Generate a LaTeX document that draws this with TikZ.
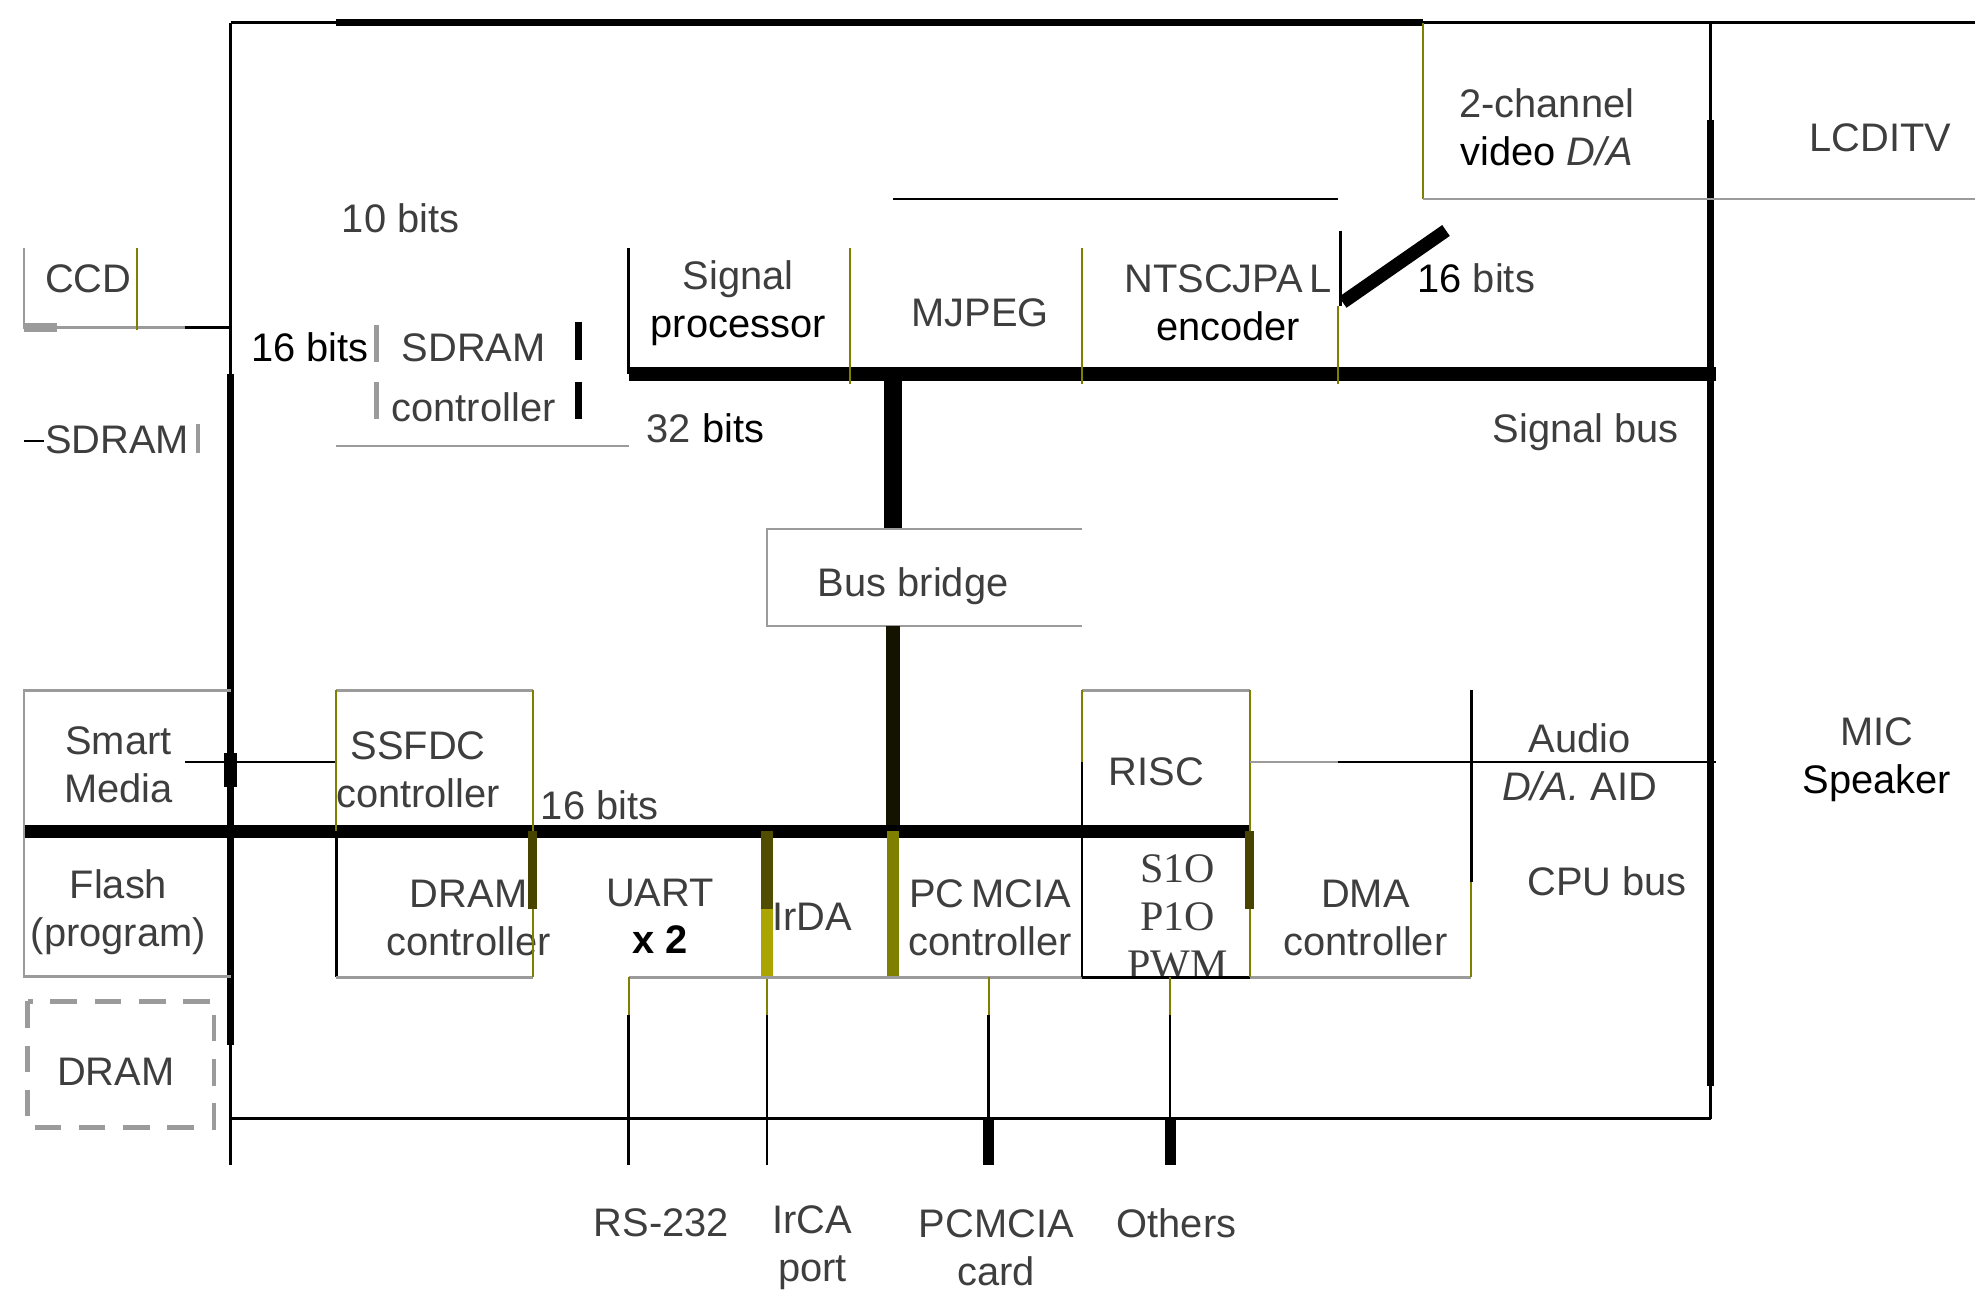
\documentclass[tikz,border=0pt]{standalone}
\usepackage{fontspec}
\setmainfont{Liberation Sans}
\newfontfamily\siofont{Liberation Serif}
\definecolor{olv}{RGB}{128,128,0}
\definecolor{dolv}{RGB}{72,68,0}
\definecolor{yolv}{RGB}{170,165,0}
\definecolor{txt}{RGB}{62,62,62}
\definecolor{lgr}{RGB}{155,155,155}

\begin{document}
\begin{tikzpicture}[x=1cm,y=-1cm,
  lbl/.style={text=txt,font=\fontsize{9}{10.8}\selectfont,align=center,inner sep=0pt},
  wire/.style={line width=0.6pt,black},
  grline/.style={line width=0.6pt,lgr},
  olvline/.style={line width=0.45pt,olv},
  busline/.style={line width=3pt,black},
  spine/.style={line width=1.7pt,black},
  stubline/.style={line width=2.8pt}]
\useasboundingbox (0,0) rectangle (15.68,10.24);

\coordinate (topL) at (1.83,0.18); \coordinate (topA) at (2.67,0.18); \coordinate (topB) at (11.30,0.18); \coordinate (topR) at (15.68,0.18);
\coordinate (sbL) at (4.99,2.97); \coordinate (sbM) at (7.09,2.97); \coordinate (sbR) at (13.62,2.97);
\coordinate (cbL) at (0.19,6.60); \coordinate (cbM) at (7.09,6.60); \coordinate (cbR) at (9.92,6.60);
\coordinate (spT) at (1.83,2.97); \coordinate (spB) at (1.83,8.30); \coordinate (spE) at (1.83,9.25);
\coordinate (rsT) at (13.58,0.95); \coordinate (rsB) at (13.58,8.62); \coordinate (rsE) at (13.58,8.88);
\coordinate (btL) at (1.83,8.88);

\node[lbl] (ccd) at (0.70,2.21){CCD};
\node[lbl] (tenbits) at (3.18,1.73){10 bits};
\node[lbl,text=black] (bitsA) at (2.46,2.76){16 bits};
\node[lbl] (sdramA) at (3.76,2.76){SDRAM};
\node[lbl] (sdramB) at (3.76,3.23){controller};
\node[lbl] (sdramL) at (0.93,3.49){SDRAM};
\node[lbl] (bitsB) at (5.60,3.40){32 \textcolor{black}{bits}};
\node[lbl] (sigproc) at (5.86,2.405){Signal\\\textcolor{black}{processor}};
\node[lbl] (mjpeg) at (7.78,2.48){MJPEG};
\node[lbl] (ntsc) at (9.75,2.405){NTSCJPA\,L\\\textcolor{black}{encoder}};
\node[lbl] (bitsC) at (11.72,2.21){\textcolor{black}{16} bits};
\node[lbl] (vda) at (12.28,1.01){2-channel\\\textcolor{black}{video} \textit{D/A}};
\node[lbl] (lcd) at (14.93,1.09){LCDITV};
\node[lbl] (sigbus) at (12.59,3.43){Signal bus};
\node[lbl] (bridge) at (7.25,4.65){Bus bridge};
\node[lbl] (smart) at (0.94,6.07){Smart\\Media};
\node[lbl] (flash) at (0.94,7.245){Flash\\(program)};
\node[lbl] (ssfdc) at (3.32,6.11){SSFDC\\controller};
\node[lbl] (bitsD) at (4.76,6.39){16 bits};
\node[lbl] (dramctl) at (3.72,7.285){DRAM\\controller};
\node[lbl] (uart) at (5.24,7.275){UART\\\textcolor{black}{\bfseries x 2}};
\node[lbl] (irda) at (6.45,7.28){IrDA};
\node[lbl] (pcmciac) at (7.86,7.285){PC\,MCIA\\controller};
\node[lbl] (risc) at (9.18,6.13){RISC};
\node[lbl,font=\siofont\fontsize{9.5}{10.8}\selectfont] (sio) at (9.35,7.28){S1O\\P1O\\PWM};
\node[lbl] (dma) at (10.84,7.285){DMA\\controller};
\node[lbl] (audio) at (12.54,6.05){Audio\\\textit{D/A.} AID};
\node[lbl] (cpubus) at (12.76,7.00){CPU bus};
\node[lbl] (mic) at (14.90,6.03){MIC\\\textcolor{black}{Speaker}};
\node[lbl] (dram) at (0.92,8.51){DRAM};
\node[lbl] (rs) at (5.25,9.71){RS-232};
\node[lbl] (irca) at (6.45,9.905){IrCA\\port};
\node[lbl] (card) at (7.91,9.905){PCMCIA\\card};
\node[lbl] (others) at (9.34,9.71){Others};

%Top line and spines
\draw[wire] (topL)--(topA); \draw[line width=1.6pt] (topA)--(topB); \draw[wire] (topB)--(topR);
\draw[wire] (topL)--(spT); \draw[spine] (spT)--(spB); \draw[wire] (spB)--(spE);
\draw[wire] (13.58,0.18)--(rsT); \draw[spine] (rsT)--(rsB); \draw[wire] (rsB)--(rsE);

%CCD and SDRAM
\draw[grline] (0.19,1.97)--(0.19,2.60)--(1.47,2.60); \draw[wire] (1.47,2.60)--(1.83,2.60); \draw[olvline] (1.09,1.97)--(1.09,2.62); \draw[lgr,line width=2pt] (0.19,2.60)--(0.45,2.60);
\draw[lgr,line width=1pt] (2.99,2.58)--(2.99,2.87) (2.99,3.03)--(2.99,3.33); \draw[line width=1.6pt] (4.59,2.56)--(4.59,2.86) (4.59,3.03)--(4.59,3.33); \draw[grline] (2.67,3.54)--(4.99,3.54);
\draw[wire] (0.19,3.50)--(0.35,3.50); \draw[lgr,line width=1pt] (1.57,3.37)--(1.57,3.60);

%Signal bus
\draw[line width=3.3pt] (sbL)--(sbR);
\draw[wire] (4.99,1.97)--(sbL); \draw[olvline] (6.75,1.97)--(6.75,3.05) (8.59,1.97)--(8.59,3.05) (10.62,2.43)--(10.62,3.05);
\draw[wire] (7.09,1.58)--(10.62,1.58);
\draw[wire] (10.64,1.83)--(10.64,2.43); \draw[line width=3pt] (10.66,2.40)--(11.48,1.83);
\draw[olvline] (topB)--(11.30,1.58); \draw[grline] (11.30,1.58)--(15.68,1.58);

%Bus bridge
\draw[line width=4pt] (sbM)--(7.09,4.20);
\draw[grline] (8.59,4.20)--(6.09,4.20)--(6.09,4.97)--(8.59,4.97);
\draw[line width=3pt,black!85!olv] (7.09,4.97)--(cbM);

%CPU bus
\draw[busline] (cbL)--(cbR);
\draw[grline] (1.83,5.48)--(0.19,5.48)--(0.19,7.75)--(1.83,7.75);
\draw[wire] (1.47,6.05)--(2.67,6.05); \fill (1.78,5.98) rectangle (1.88,6.25);
\draw[grline] (2.67,5.48)--(4.23,5.48); \draw[olvline] (2.67,5.48)--(2.67,6.60) (4.23,5.48)--(4.23,6.60);
\draw[wire] (2.67,6.60)--(2.67,7.76); \draw[grline] (2.67,7.76)--(4.23,7.76);
\draw[dolv,line width=2pt] (4.23,6.60)--(4.23,7.22); \draw[olvline] (4.23,7.22)--(4.23,7.76);
\draw[stubline,dolv!85!olv] (6.09,6.60)--(6.09,7.22); \draw[stubline,yolv] (6.09,7.22)--(6.09,7.76); \draw[olvline] (6.09,7.76)--(6.09,8.06); \draw[wire] (6.09,8.06)--(6.09,9.25);
\draw[stubline,olv] (cbM)--(7.09,7.76);
\draw[grline] (4.99,7.76)--(11.68,7.76); \draw[wire] (8.59,7.76)--(9.92,7.76);
\draw[olvline] (4.99,7.76)--(4.99,8.06); \draw[wire] (4.99,8.06)--(4.99,9.25);
\draw[grline] (8.59,5.48)--(9.92,5.48); \draw[olvline] (8.59,5.48)--(8.59,6.05) (9.92,5.48)--(cbR); \draw[wire] (8.59,6.05)--(8.59,7.76);
\draw[dolv,line width=2pt] (cbR)--(9.92,7.22); \draw[olvline] (9.92,7.22)--(9.92,7.76);
\draw[wire] (11.68,5.48)--(11.68,7.00); \draw[olvline] (11.68,7.00)--(11.68,7.76);
\draw[grline] (9.92,6.05)--(10.62,6.05); \draw[wire] (10.62,6.05)--(13.62,6.05);

%Bottom lines
\draw[wire] (btL)--(rsE);
\draw[olvline] (7.85,7.76)--(7.85,8.06); \draw[wire] (7.85,8.06)--(7.85,8.88); \draw[line width=2.5pt] (7.85,8.88)--(7.85,9.25);
\draw[olvline] (9.29,7.76)--(9.29,8.06); \draw[wire] (9.29,8.06)--(9.29,8.88); \draw[line width=2.5pt] (9.29,8.88)--(9.29,9.25);
\draw[lgr,dashed,line width=1pt,dash pattern=on 6pt off 4pt] (0.22,7.95) rectangle (1.70,8.95);
\end{tikzpicture}
\end{document}
